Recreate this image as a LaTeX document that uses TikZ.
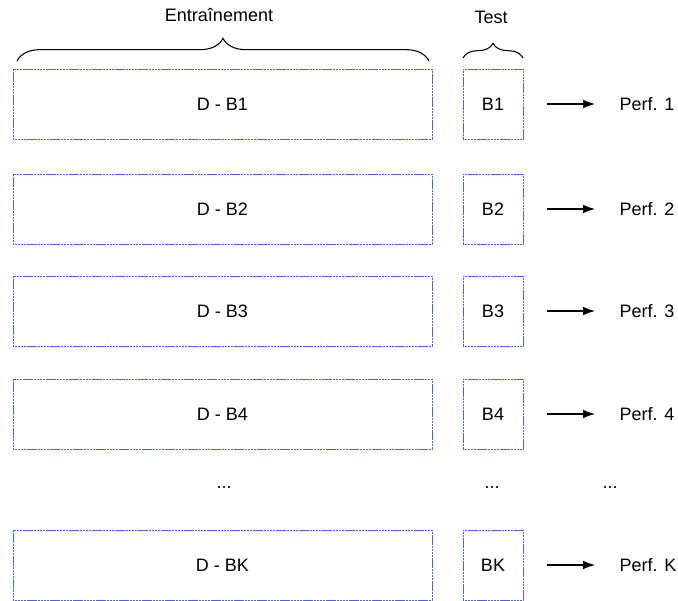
\documentclass[tikz,border=0pt]{standalone}
\usepackage{fontspec}
\setmainfont{Liberation Sans}
\usetikzlibrary{decorations.pathreplacing,arrows.meta}
\definecolor{boxBlue}{RGB}{80, 95, 235}

\begin{document}
\begin{tikzpicture}[x=0.75pt, y=-0.75pt, font=\fontsize{13.5}{16}\selectfont,
    bigbox/.style={draw=boxBlue, line width=0.6pt, dash pattern=on 0.9pt off 0.25pt, minimum width=314.25pt, minimum height=52.5pt},
    testbox/.style={draw=boxBlue, line width=0.6pt, dash pattern=on 0.9pt off 0.25pt, minimum width=45pt, minimum height=52.5pt},
    brace/.style={decorate, decoration={brace, amplitude=17pt}, thick}]
    \useasboundingbox (0,0) rectangle (678,600);
    % rows
    \foreach \n/\y in {1/104, 2/209, 3/311, 4/414, K/565} {
        \node[bigbox] (d\n) at (222.5,\y) {D - B\n};
        \node[testbox] (b\n) at (493,\y) {B\n};
        \coordinate (s\n) at (547,\y);
        \coordinate (e\n) at (595,\y);
        \node[anchor=west] (p\n) at (615,\y) {Perf. \n};
        \draw[-{Latex[length=9pt,width=6.5pt]}, thick] (s\n) -- (e\n);
    }
    % dots
    \node (dd) at (224,488) {...};
    \node (db) at (492,488) {...};
    \node (dp) at (610,488) {...};
    % braces
    \coordinate (tr1) at (17,61);
    \coordinate (tr2) at (429,61);
    \draw[brace] (tr1) -- (tr2);
    \node (train) at (219,15) {Entraînement};
    \coordinate (te1) at (463,58);
    \coordinate (te2) at (523,58);
    \draw[brace, decoration={amplitude=11pt}] (te1) -- (te2);
    \node (test) at (491,17) {Test};
\end{tikzpicture}
\end{document}
